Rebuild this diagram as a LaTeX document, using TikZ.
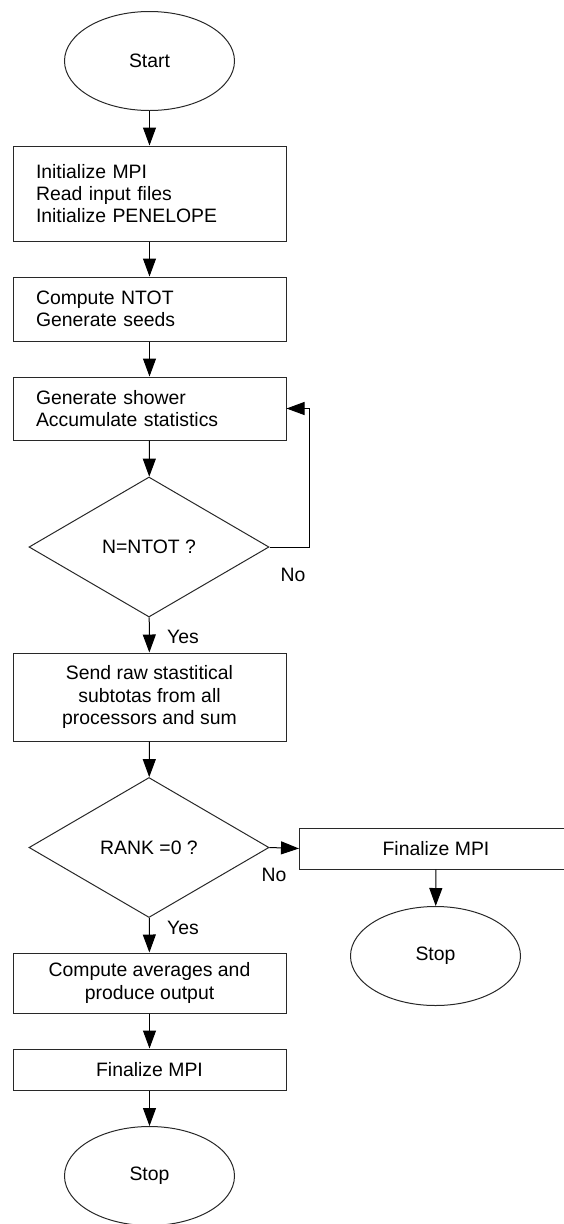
\documentclass[tikz,border=0pt]{standalone}
\usepackage{fontspec}
\setmainfont{Liberation Sans}
\usetikzlibrary{shapes.geometric, arrows.meta, positioning}
\definecolor{edgegray}{RGB}{40, 40, 40}

\tikzset{
  flowtext/.style={font=\fontsize{19.4}{22.3}\selectfont},
  termnode/.style={flowtext, ellipse, draw=edgegray, line width=1pt, minimum width=170pt, minimum height=99pt, inner sep=0pt},
  procleft/.style={flowtext, rectangle, draw=edgegray, line width=1pt, minimum width=273pt, inner xsep=23pt, text width=227pt, align=left},
  proccenter/.style={flowtext, rectangle, draw=edgegray, line width=1pt, minimum width=273pt, align=center},
  decnode/.style={flowtext, diamond, draw=edgegray, line width=1pt, minimum width=240pt, minimum height=140pt, inner sep=0pt},
  flowarrow/.style={line width=1pt, -{Triangle[length=18pt, width=13pt]}},
  branchlbl/.style={flowtext}
}

\begin{document}
\begin{tikzpicture}[x=1pt, y=-1pt]
    \useasboundingbox (0,0) rectangle (563,1224);

    % Start and setup
    \node[termnode] at (149.5,61) (start) {Start};
    \node[procleft, minimum height=95pt] at (149.5,193.5) (init) {Initialize MPI\\Read input files\\Initialize PENELOPE};
    \draw[flowarrow] (start) -- (init);

    \node[procleft, minimum height=64pt] at (149.5,309) (seeds) {Compute NTOT\\Generate seeds};
    \draw[flowarrow] (init) -- (seeds);

    % Shower loop
    \node[procleft, minimum height=63pt] at (149.5,408.5) (shower) {Generate shower\\Accumulate statistics};
    \draw[flowarrow] (seeds) -- (shower);

    \node[decnode] at (149,547) (ntot) {N=NTOT ?};
    \draw[flowarrow] (shower) -- (ntot);
    \draw[flowarrow] (ntot.east) -- ++(40,0) |- (shower.east);
    \node[branchlbl] at (293,575) (nolbl1) {No};

    % Reduction
    \node[proccenter, minimum height=88pt] at (149.5,697) (reduce) {Send raw stastitical\\subtotas from all\\processors and sum};
    \draw[flowarrow] (ntot) -- (reduce);
    \node[branchlbl] at (183,637) (yeslbl1) {Yes};

    \node[decnode] at (149,847.5) (rank) {RANK =0 ?};
    \draw[flowarrow] (reduce) -- (rank);

    % Slave branch
    \node[proccenter, minimum height=41pt] at (436,848.5) (finslave) {Finalize MPI};
    \draw[flowarrow] (rank.east) -- (finslave.west);
    \node[branchlbl] at (274,875) (nolbl2) {No};

    \node[termnode] at (435.5,956) (stopslave) {Stop};
    \draw[flowarrow] (finslave) -- (stopslave);

    % Master branch
    \node[proccenter, minimum height=60pt] at (149.5,983) (output) {Compute averages and\\produce output};
    \draw[flowarrow] (rank) -- (output);
    \node[branchlbl] at (183,928) (yeslbl2) {Yes};

    \node[proccenter, minimum height=41pt] at (149.5,1069.5) (finmaster) {Finalize MPI};
    \draw[flowarrow] (output) -- (finmaster);

    \node[termnode] at (149.5,1176) (stopmaster) {Stop};
    \draw[flowarrow] (finmaster) -- (stopmaster);

\end{tikzpicture}
\end{document}
